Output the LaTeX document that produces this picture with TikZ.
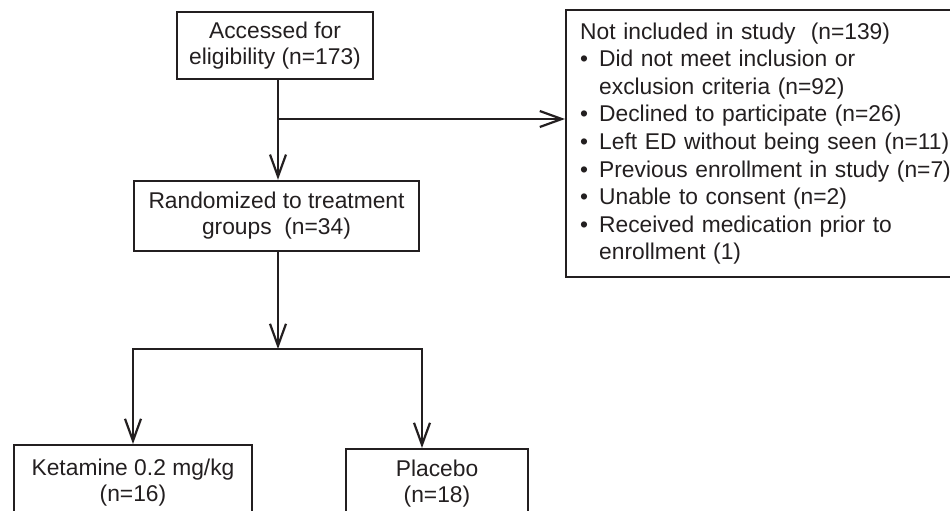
\documentclass[tikz,border=0pt]{standalone}
\usepackage{fontspec}
\setmainfont{Liberation Sans}
\usetikzlibrary{arrows.meta}
\definecolor{ink}{RGB}{35,31,32}

\begin{document}
\begin{tikzpicture}[x=0.5pt,y=-0.5pt,
    box/.style={draw=ink,line width=1.2pt,text=ink,align=center,inner sep=0pt,
      font=\fontsize{11.4}{13}\selectfont},
    link/.style={draw=ink,line width=1.1pt},
    arr/.style={link,-{Straight Barb[length=11pt,width=8pt]}}]
      \useasboundingbox (0,0) rectangle (950,510);
      \clip (0,0) rectangle (950,510);
      \node[box,minimum width=98pt,minimum height=33.5pt] (acc) at (275,45.5) {Accessed for\\eligibility (n=173)};
      \node[box,minimum width=142.5pt,minimum height=35pt] (rand) at (276.5,216) {Randomized to treatment\\groups\ \ (n=34)};
      \node[box,anchor=west,align=left,inner xsep=7pt,text width=200pt,minimum height=133.5pt,
        font=\fontsize{11.4}{13.8}\selectfont] (excl) at (565,143.5) {Not included in study\ \ (n=139)\\
        \makebox[9.5pt][l]{\textbullet}Did not meet inclusion or\\
        \hspace*{9.5pt}exclusion criteria (n=92)\\
        \makebox[9.5pt][l]{\textbullet}Declined to participate (n=26)\\
        \makebox[9.5pt][l]{\textbullet}Left ED without being seen (n=11)\\
        \makebox[9.5pt][l]{\textbullet}Previous enrollment in study (n=7)\\
        \makebox[9.5pt][l]{\textbullet}Unable to consent (n=2)\\
        \makebox[9.5pt][l]{\textbullet}Received medication prior to\\
        \hspace*{9.5pt}enrollment (1)};
      \node[box,anchor=north,minimum width=119pt,inner ysep=6.8pt] (ket) at (133,444) {Ketamine 0.2 mg/kg\\(n=16)};
      \node[box,anchor=north,minimum width=91pt,inner ysep=5.3pt] (plac) at (437,448) {Placebo\\(n=18)};
      \coordinate (trunk) at (278,119);
      \coordinate (fork) at (278,349);
      \coordinate (lsplit) at (133,349);
      \coordinate (rsplit) at (422,349);
      \draw[arr] (acc.south -| trunk) -- (rand.north -| trunk);
      \draw[arr] (trunk) -- (trunk -| excl.west);
      \draw[arr] (rand.south -| trunk) -- (fork);
      \draw[link,line cap=rect] (lsplit) -- (rsplit);
      \draw[arr] (lsplit) -- (ket.north -| lsplit);
      \draw[arr] (rsplit) -- (plac.north -| rsplit);
    \end{tikzpicture}
\end{document}
